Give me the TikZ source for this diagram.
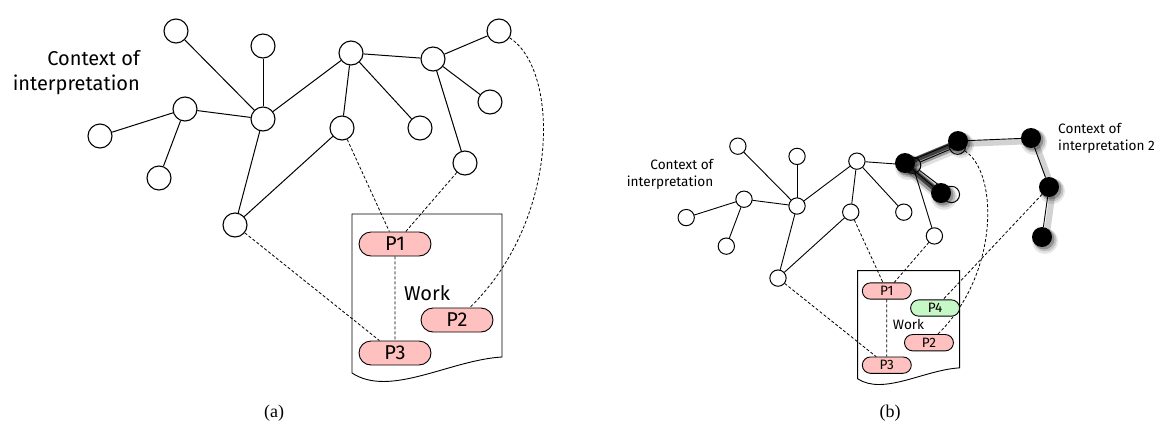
\documentclass[tikz,border=0pt]{standalone}
\usepackage{fontspec}
\setmainfont{Liberation Serif}
\newfontfamily\figfont{Fira Sans}
\usetikzlibrary{shapes.misc,calc}
\definecolor{pinkfill}{RGB}{255,192,192}
\definecolor{greenfill}{RGB}{198,247,198}

% One context of interpretation with its work; drawn once at full size
% and once, scaled, for the second panel.
\newcommand\contextgraph{%
  \node[lbl, align=right, anchor=east] (ctx) at (140,72.5) {Context of\\interpretation};
  \draw[docpage] (352,214) -- (502,214) -- (502,357)
    .. controls (450,360) and (390,398) .. (352,373) -- cycle;
  \node[vtx] (A) at (176,31) {};
  \node[vtx] (B) at (263,46) {};
  \node[vtx] (C) at (263,119) {};
  \node[vtx] (D) at (185,109) {};
  \node[vtx] (E) at (100,136) {};
  \node[vtx] (F) at (159,178) {};
  \node[vtx] (G) at (351,53) {};
  \node[vtx] (H) at (342,128) {};
  \node[vtx] (I) at (420,128) {};
  \node[vtx] (J) at (433,59) {};
  \node[vtx] (K) at (499,31) {};
  \node[vtx] (L) at (490,102) {};
  \node[vtx] (M) at (465,163) {};
  \node[vtx] (N) at (235,225) {};
  \foreach \a/\b in {A/C,B/C,D/C,E/D,F/D,C/G,C/N,H/N,G/H,G/I,G/J,J/K,J/L,J/M}
    \draw[link] (\a) -- (\b);
  \node[pill] (P1) at (395,244) {P1};
  \node[pill] (P2) at (457,320) {P2};
  \node[pill] (P3) at (395,353) {P3};
  \node[lbl] (work) at (427,293) {Work};
  \draw[dlink] (H) -- (P1);
  \draw[dlink] (M) -- (P1);
  \draw[dlink] (N) -- (P3);
  \draw[dlink] (P1) -- (P3);
  \draw[dlink] (K) .. controls (560,70) and (560,220) .. (P2);
}

\begin{document}
\begin{tikzpicture}[x=1pt,y=-1pt,
  vtx/.style={circle, draw, line width=1.1pt, fill=white, minimum size=24pt, inner sep=0pt},
  link/.style={line width=1pt},
  dlink/.style={line width=0.8pt, dash pattern=on 3pt off 2pt},
  pill/.style={rounded rectangle, draw, line width=0.9pt, fill=pinkfill,
    minimum width=72pt, minimum height=24pt, inner sep=0pt,
    font=\figfont\fontsize{20}{24}\selectfont},
  docpage/.style={draw, line width=0.9pt, fill=white},
  lbl/.style={font=\figfont\fontsize{20}{25}\selectfont, inner sep=0pt},
  caption/.style={font=\fontsize{18}{20}\selectfont, inner sep=0pt},
  blob/.style={circle, fill=black, minimum size=20pt, inner sep=0pt},
  smear/.style={line cap=round, black},
]
\useasboundingbox (0,0) rectangle (1162,424);

% (a) a single context of interpretation
\contextgraph
\node[caption] (capa) at (274,413) {(a)};

% (b) the same context, scaled, with a work node P4 and a second context
\begin{scope}[shift={(618.2,125.1)}, scale=0.68, transform shape, name prefix=r-,
    vtx/.append style={line width=1pt}, link/.append style={line width=0.9pt}]
  \contextgraph
  \node[pill, fill=greenfill] (P4) at (466,269) {P4};
\end{scope}
\node[caption] (capb) at (890,413) {(b)};

% second context of interpretation (black, smeared)
\coordinate (x2a) at (905,163);
\coordinate (x2b) at (958,141);
\coordinate (x2c) at (941,193);
\coordinate (x2d) at (1031,138);
\coordinate (x2e) at (1049,187);
\coordinate (x2f) at (1042,237);

% soft shadows of edges
\foreach \a/\b in {x2b/x2d, x2d/x2e, x2e/x2f}
  \draw[line width=6pt, black!22, opacity=0.8]
    ($(\a)+(4,3)$) -- ($(\b)+(4,3)$);
% smeared edges
\foreach \a/\b in {x2a/x2b, x2a/x2c} {
  \draw[smear, line width=13pt, opacity=0.12] ($(\a)+(2,4)$) -- ($(\b)+(2,4)$);
  \draw[smear, line width=9pt, opacity=0.3] ($(\a)+(1,3)$) -- ($(\b)+(1,3)$);
  \draw[smear, line width=5pt, opacity=0.6] ($(\a)+(0,1)$) -- ($(\b)+(0,1)$);
}
% soft shadows of nodes
\foreach \n in {x2a,x2b,x2c,x2d,x2e,x2f} {
  \fill[black, opacity=0.10] ($(\n)+(3,4)$) circle (13pt);
  \fill[black, opacity=0.15] ($(\n)+(3,3)$) circle (11.5pt);
  \fill[black, opacity=0.25] ($(\n)+(2,2)$) circle (10.5pt);
}
\node[blob] (c2a) at (x2a) {};
\node[blob] (c2b) at (x2b) {};
\node[blob] (c2c) at (x2c) {};
\node[blob] (c2d) at (x2d) {};
\node[blob] (c2e) at (x2e) {};
\node[blob] (c2f) at (x2f) {};
\foreach \a/\b in {c2a/c2b, c2a/c2c, c2b/c2d, c2d/c2e, c2e/c2f}
  \draw[line width=0.9pt] (\a) -- (\b);
\draw[dlink] (c2e) -- (r-P4);
\node[font=\figfont\fontsize{13.6}{17}\selectfont, align=left, anchor=west, inner sep=0pt]
  (ctx2) at (1058,138.5) {Context of\\interpretation 2};
\end{tikzpicture}
\end{document}
